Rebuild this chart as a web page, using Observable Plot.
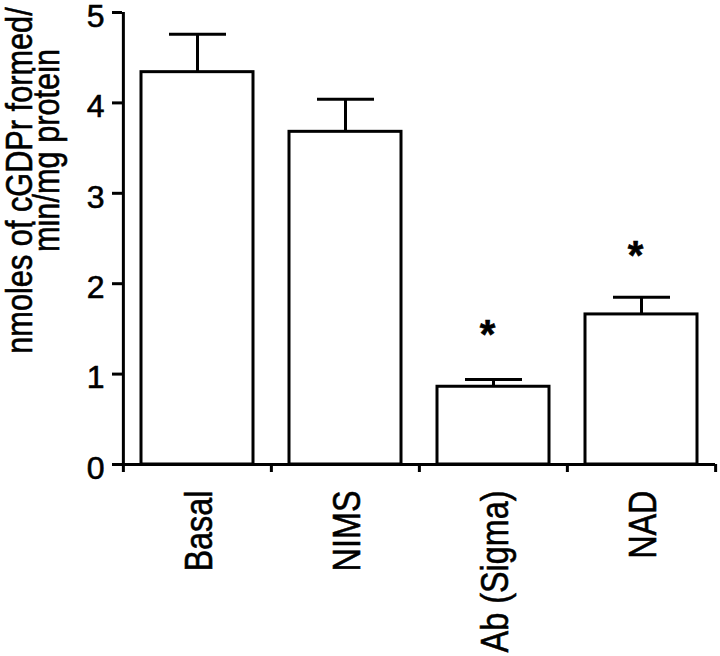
<!DOCTYPE html>
<html>
<head>
<meta charset="utf-8">
<script src="https://cdn.jsdelivr.net/npm/d3@7"></script>
<script src="https://cdn.jsdelivr.net/npm/@observablehq/plot@0.6"></script>
<style>
  html, body { margin: 0; padding: 0; background: #fff; }
  #chart svg g[aria-label="y-axis tick label"] { font-size: 32px; }
  #chart svg g[aria-label="x-axis tick label"] { font-size: 39px; }
  #chart svg text { stroke: #000; stroke-width: 0.6px; }
</style>
</head>
<body>
<div id="chart"></div>
<script>
const categories = ["Basal", "NIMS", "Ab (Sigma)", "NAD"];
const means = [4.34, 3.68, 0.86, 1.66];
const errors = [0.42, 0.36, 0.08, 0.19];
const starCategories = ["Ab (Sigma)", "NAD"];
const starY = [1.48, 2.35];
const yTicks = [0, 1, 2, 3, 4, 5];
const yLabelLines = ["nmoles of cGDPr formed/", "min/mg protein"];

const data = categories.map((c, i) => ({cat: c, value: means[i], top: means[i] + errors[i]}));
const stars = starCategories.map((c, i) => ({cat: c, y: starY[i]}));

const W = 720, H = 656;
const mL = 122, mR = 5, mT = 12, mB = 192;
const step = (W - mL - mR) / categories.length;
const font = "'Liberation Sans', Arial, Helvetica, sans-serif";
const condense = 0.83; // the reference lettering is a condensed Helvetica

const chart = Plot.plot({
  width: W,
  height: H,
  marginLeft: mL,
  marginRight: mR,
  marginTop: mT,
  marginBottom: mB,
  style: {fontFamily: font, fontSize: "32px", color: "#000", background: "#fff", overflow: "visible"},
  x: {domain: categories, padding: 0, label: null},
  y: {domain: [0, 5], label: null},
  marks: [
    Plot.barY(data, {x: "cat", y: "value", fill: "#fff", stroke: "#000", strokeWidth: 3, insetLeft: 18, insetRight: 18}),
    Plot.ruleX(data, {x: "cat", y1: "value", y2: "top", stroke: "#000", strokeWidth: 3}),
    Plot.tickY(data, {x: "cat", y: "top", stroke: "#000", strokeWidth: 3, insetLeft: 46, insetRight: 45}),
    Plot.text(stars, {x: "cat", y: "y", text: () => "*", fontSize: 40, fontWeight: "bold", dx: -6, dy: 4, fill: "#000"}),
    Plot.ruleY([0], {stroke: "#000", strokeWidth: 3}),
    Plot.ruleX([categories[0]], {x: d => d, y1: 0, y2: 5, dx: -step / 2, stroke: "#000", strokeWidth: 3}),
    Plot.ruleX(categories, {x: d => d, y1: 0, y2: 0, dx: -step / 2, insetBottom: -8, stroke: "#000", strokeWidth: 3}),
    Plot.ruleX([categories[categories.length - 1]], {x: d => d, y1: 0, y2: 0, dx: step / 2, insetBottom: -8, stroke: "#000", strokeWidth: 3}),
    Plot.axisY({ticks: yTicks, tickSize: 10, strokeWidth: 3, tickFormat: () => "", label: null}),
    Plot.axisY({ticks: yTicks, tickSize: 0, tickPadding: 18, dy: 4, tickFormat: d3.format("d"), label: null}),
    Plot.axisX({tickSize: 0, tickPadding: 26, tickRotate: -90, dx: 2, label: null}),
    Plot.text([yLabelLines[0]], {frameAnchor: "top-left", text: d => d, rotate: -90, textAnchor: "middle", lineAnchor: "middle", dx: -102, dy: 168, fontSize: 37, fill: "#000", className: "ylab"}),
    Plot.text([yLabelLines[1]], {frameAnchor: "top-left", text: d => d, rotate: -90, textAnchor: "middle", lineAnchor: "middle", dx: -75, dy: 138, fontSize: 37, fill: "#000", className: "ylab"})
  ]
});
document.getElementById("chart").appendChild(chart);

// condense the label lettering like the reference's narrow typeface
d3.select(chart)
  .selectAll('g.ylab text, g[aria-label="x-axis tick label"] text')
  .each(function () {
    const len = this.getComputedTextLength();
    d3.select(this).attr("lengthAdjust", "spacingAndGlyphs").attr("textLength", len * condense);
  });
</script>
</body>
</html>
